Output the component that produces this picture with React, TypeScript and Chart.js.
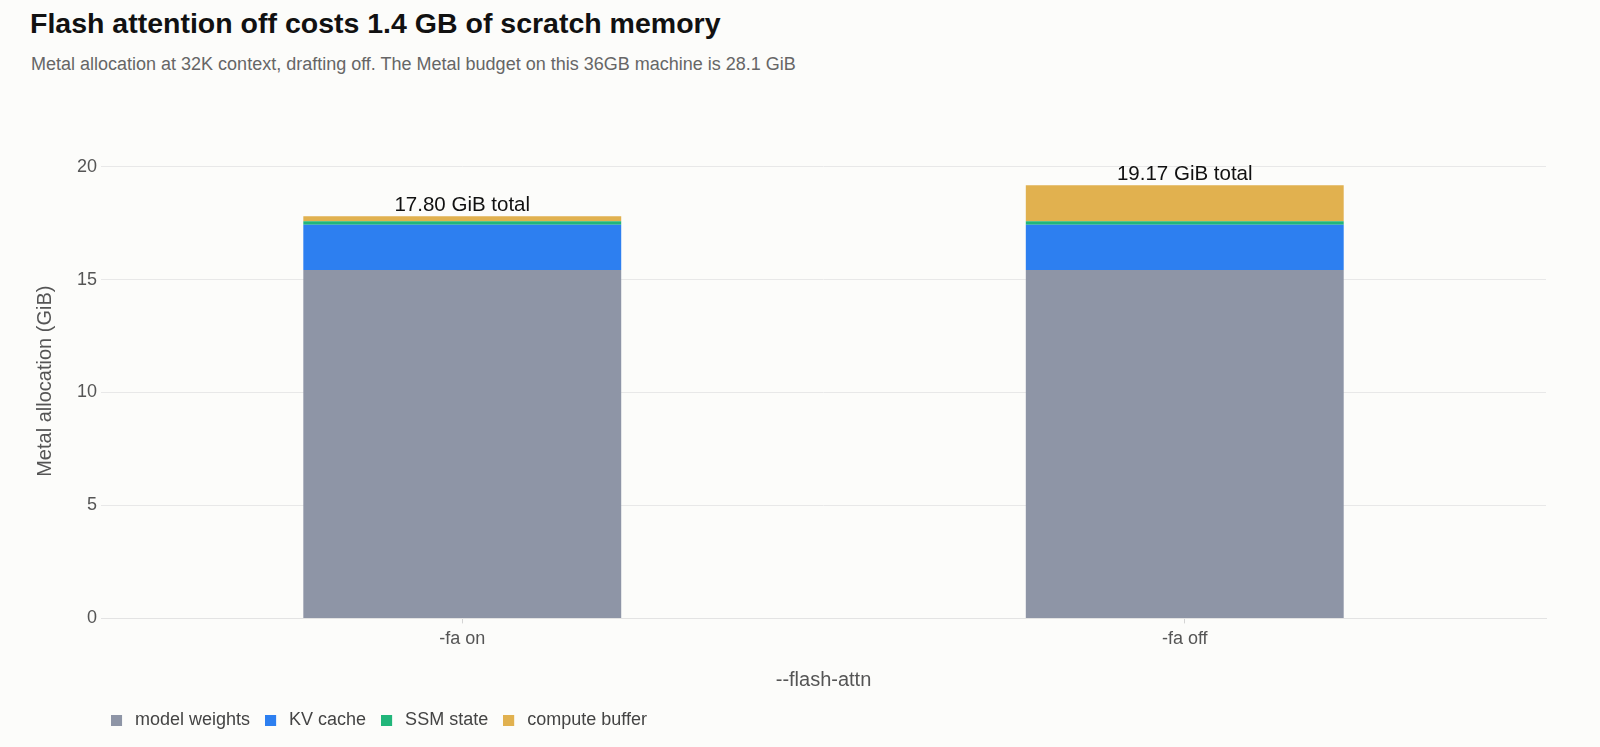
import { useEffect, useRef } from 'react'
import { Chart, registerables } from 'chart.js'

Chart.register(...registerables)

const categories = ['-fa on', '-fa off']
const modelWeights = [15.42, 15.42]
const kvCache = [2.0, 2.0]
const ssmState = [0.16, 0.16]
const computeBuffer = [0.22, 1.59]
const totals = [17.8, 19.17]

const FONT = '"Helvetica Neue", Helvetica, Arial, "Liberation Sans", sans-serif'
const COLORS = ['#8e95a6', '#2d7ff0', '#21b67a', '#e1b14f']

// small square swatch with room to its right, so the legend text sits a bit further out
function swatch(color: string) {
  const c = document.createElement('canvas')
  c.width = 15
  c.height = 11
  const g = c.getContext('2d')!
  g.fillStyle = color
  g.fillRect(0, 0, 11, 11)
  return c
}

// writes "xx.xx GiB total" above each stacked bar
const totalLabels = {
  id: 'totalLabels',
  afterDatasetsDraw(chart: any) {
    const { ctx } = chart
    const last = chart.getDatasetMeta(chart.data.datasets.length - 1)
    const yScale = chart.scales.y
    ctx.save()
    ctx.font = `20.5px ${FONT}`
    ctx.fillStyle = '#111'
    ctx.textAlign = 'center'
    ctx.textBaseline = 'alphabetic'
    last.data.forEach((bar: any, i: number) => {
      ctx.fillText(`${totals[i].toFixed(2)} GiB total`, bar.x, yScale.getPixelForValue(totals[i]) - 5.5)
    })
    ctx.restore()
  }
}

// nudge the legend a few px left of the plot edge, like the original
const legendNudge = {
  id: 'legendNudge',
  afterLayout(chart: any) {
    if (chart.legend) {
      chart.legend.left -= 5
      chart.legend.right -= 5
    }
  }
}

export default function App() {
  const chartRef = useRef<HTMLCanvasElement>(null)

  useEffect(() => {
    document.body.style.margin = '0'
    const ctx = chartRef.current?.getContext('2d')
    if (!ctx) return

    const series = [modelWeights, kvCache, ssmState, computeBuffer]
    const names = ['model weights', 'KV cache', 'SSM state', 'compute buffer']

    const chart = new Chart(ctx, {
      type: 'bar',
      data: {
        labels: categories,
        datasets: series.map((data, i) => ({
          label: names[i],
          data,
          backgroundColor: COLORS[i],
          pointStyle: swatch(COLORS[i])
        }))
      },
      options: {
        animation: false,
        responsive: false,
        layout: { padding: { top: 144, left: 33, right: 54, bottom: 8 } },
        datasets: { bar: { barPercentage: 0.44, categoryPercentage: 1 } },
        plugins: {
          legend: {
            position: 'bottom',
            align: 'start',
            fullSize: false,
            labels: {
              usePointStyle: true,
              pointStyleWidth: 15,
              boxHeight: 11,
              padding: 15,
              color: '#444',
              font: { family: FONT, size: 18 }
            }
          },
          tooltip: { enabled: false }
        },
        scales: {
          x: {
            stacked: true,
            grid: { drawOnChartArea: false, offset: false, tickLength: 5, color: '#d4d4d4' },
            border: { color: '#e3e3e3' },
            ticks: { color: '#555', font: { family: FONT, size: 18 }, padding: 5 },
            title: {
              display: true,
              text: '--flash-attn',
              color: '#555',
              font: { family: FONT, size: 20 },
              padding: { top: 13, bottom: 4 }
            }
          },
          y: {
            stacked: true,
            min: 0,
            max: 21,
            grid: { color: '#e8e8e8', drawTicks: false },
            border: { display: false },
            ticks: {
              stepSize: 5,
              includeBounds: false,
              color: '#555',
              padding: 4,
              font: { family: FONT, size: 18 }
            },
            title: {
              display: true,
              text: 'Metal allocation (GiB)',
              color: '#555',
              font: { family: FONT, size: 20 },
              padding: { top: 0, bottom: 16 }
            }
          }
        }
      },
      plugins: [totalLabels, legendNudge]
    })

    return () => chart.destroy()
  }, [])

  return (
    <div style={{ position: 'relative', width: 1600, height: 747, background: '#fcfcfa', fontFamily: FONT }}>
      <div style={{ position: 'absolute', left: 30, top: 7, fontSize: 28.5, fontWeight: 700, color: '#111', whiteSpace: 'nowrap' }}>
        Flash attention off costs 1.4 GB of scratch memory
      </div>
      <div style={{ position: 'absolute', left: 31, top: 54, fontSize: 18, color: '#666', whiteSpace: 'nowrap' }}>
        Metal allocation at 32K context, drafting off. The Metal budget on this 36GB machine is 28.1 GiB
      </div>
      <canvas ref={chartRef} width={1600} height={747} style={{ position: 'absolute', left: 0, top: 0 }} />
    </div>
  )
}
